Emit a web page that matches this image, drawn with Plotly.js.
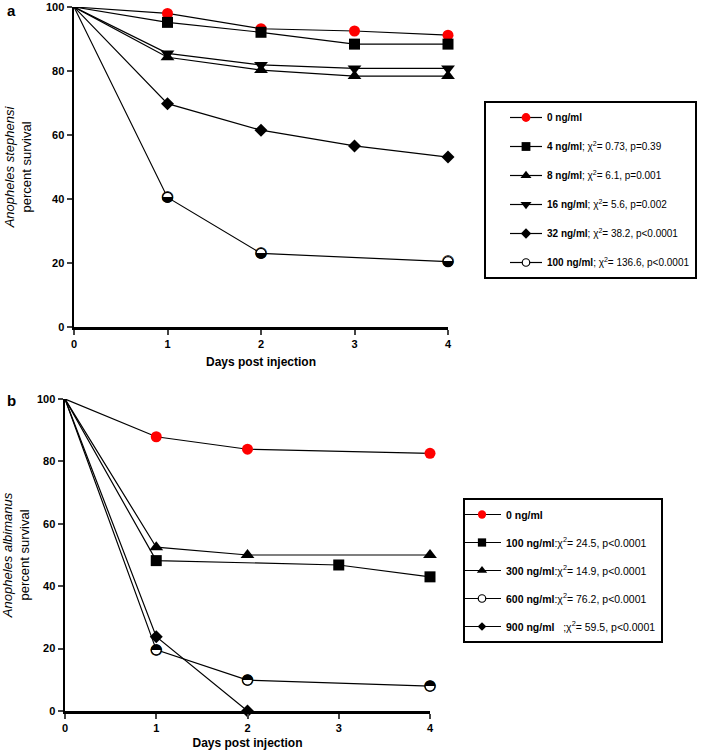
<!DOCTYPE html>
<html>
<head>
<meta charset="utf-8">
<script src="https://cdn.plot.ly/plotly-3.0.1.min.js"></script>
<style>
  body { margin: 0; background: #fff; }
  #chart { width: 710px; height: 752px; }
</style>
</head>
<body>
<div id="chart"></div>
<script>
/* ===== Data: panel a (Anopheles stephensi) ===== */
const daysA = [0, 1, 2, 3, 4];
const namesA = [
  "<b>0 ng/ml</b>",
  "<b>4 ng/ml</b>; χ<sup>2</sup>= 0.73, p=0.39",
  "<b>8 ng/ml</b>; χ<sup>2</sup>= 6.1, p=0.001",
  "<b>16 ng/ml</b>; χ<sup>2</sup>= 5.6, p=0.002",
  "<b>32 ng/ml</b>; χ<sup>2</sup>= 38.2, p<0.0001",
  "<b>100 ng/ml</b>; χ<sup>2</sup>= 136.6, p<0.0001"
];
const a0   = [100, 98.0, 93.2, 92.5, 91.2];
const a4   = [100, 95.2, 92.1, 88.4, 88.4];
const a8   = [100, 84.3, 80.3, 78.4, 78.4];
const a16  = [100, 85.5, 81.9, 80.8, 80.8];
const a32  = [100, 69.8, 61.5, 56.6, 53.1];
const a100x = [0, 1, 2, 4];
const a100 = [100, 40.5, 23.0, 20.4];

/* ===== Data: panel b (Anopheles albimanus) ===== */
const namesB = [
  "<b>0 ng/ml</b>",
  "<b>100 ng/ml</b>:χ<sup>2</sup>= 24.5, p<0.0001",
  "<b>300 ng/ml</b>:χ<sup>2</sup>= 14.9, p<0.0001",
  "<b>600 ng/ml</b>:χ<sup>2</sup>= 76.2, p<0.0001",
  "<b>900 ng/ml</b>&nbsp;&nbsp;&nbsp;;χ<sup>2</sup>= 59.5, p<0.0001"
];
const b0x   = [0, 1, 2, 4];
const b0    = [100, 87.9, 83.9, 82.6];
const b100x = [0, 1, 3, 4];
const b100  = [100, 48.2, 46.8, 43.0];
const b300x = [0, 1, 2, 4];
const b300  = [100, 52.5, 50.0, 50.0];
const b600x = [0, 1, 2, 4];
const b600  = [100, 19.6, 9.9, 8.0];
const b900x = [0, 1, 2];
const b900  = [100, 23.8, 0];

/* ===== Helpers ===== */
const FONT = "Liberation Sans, Arial, sans-serif";

function sizes(n, s) {
  // no marker on the day-0 starting point
  return Array.from({length: n}, (_, i) => i === 0 ? 0 : s);
}

function series(x, y, name, sym, col, sz, xa, ya, leg, grp) {
  return {
    type: "scatter", mode: "lines+markers",
    x: x, y: y, name: name,
    xaxis: xa, yaxis: ya, legend: leg, legendgroup: grp,
    cliponaxis: false,
    line: {color: "black", width: 1.2},
    marker: {
      symbol: sym, color: col, size: sizes(x.length, sz), opacity: 1,
      line: {color: "black", width: col === "white" ? 1.2 : 0}
    }
  };
}

// half-filled circles: glyph drawn on top of the white marker
function halfGlyph(x, y, glyph, xa, ya) {
  return {
    type: "scatter", mode: "text",
    x: x.slice(1), y: y.slice(1),
    text: x.slice(1).map(() => glyph),
    textposition: "middle center",
    textfont: {family: "DejaVu Sans", size: 15, color: "black"},
    xaxis: xa, yaxis: ya, showlegend: false, cliponaxis: false,
    hoverinfo: "skip"
  };
}

const traces = [
  series(daysA, a0,  namesA[0], "circle", "red", 11, "x", "y", "legend", "a0"),
  series(daysA, a4,  namesA[1], "square", "black", 11, "x", "y", "legend", "a1"),
  series(daysA, a8,  namesA[2], "triangle-up", "black", 12, "x", "y", "legend", "a2"),
  series(daysA, a16, namesA[3], "triangle-down", "black", 12, "x", "y", "legend", "a3"),
  series(daysA, a32, namesA[4], "diamond", "black", 10, "x", "y", "legend", "a4"),
  series(a100x, a100, namesA[5], "circle", "white", 10, "x", "y", "legend", "a5"),
  halfGlyph(a100x, a100, "◒", "x", "y"),

  series(b0x, b0,     namesB[0], "circle", "red", 11, "x2", "y2", "legend2", "b0"),
  series(b100x, b100, namesB[1], "square", "black", 11, "x2", "y2", "legend2", "b1"),
  series(b300x, b300, namesB[2], "triangle-up", "black", 12, "x2", "y2", "legend2", "b2"),
  series(b600x, b600, namesB[3], "circle", "white", 10, "x2", "y2", "legend2", "b3"),
  series(b900x, b900, namesB[4], "diamond", "black", 10, "x2", "y2", "legend2", "b4"),
  halfGlyph(b600x, b600, "◓", "x2", "y2")
];

function xAxis(domain, anchor, standoff) {
  return {
    domain: domain, anchor: anchor, range: [0, 4],
    tickvals: [0, 1, 2, 3, 4], ticks: "outside", ticklen: 5, tickwidth: 2,
    showline: true, linewidth: 2.5, linecolor: "black",
    showgrid: false, zeroline: false, fixedrange: true,
    tickfont: {family: FONT, size: 11, weight: "bold", color: "black"},
    title: {text: "<b>Days post injection</b>", standoff: standoff,
            font: {family: FONT, size: 12, color: "black"}}
  };
}

function yAxis(domain, anchor, label) {
  return {
    domain: domain, anchor: anchor, range: [0, 100],
    tickvals: [0, 20, 40, 60, 80, 100], ticks: "outside", ticklen: 5, tickwidth: 2,
    showline: true, linewidth: 2.5, linecolor: "black",
    showgrid: false, zeroline: false, fixedrange: true,
    tickfont: {family: FONT, size: 11, weight: "bold", color: "black"},
    title: {text: label, standoff: 12,
            font: {family: FONT, size: 13, color: "black"}}
  };
}

function legendBox(x, y, size, gap, indent, iw, ew) {
  return {
    x: x, y: y, xanchor: "left", yanchor: "top",
    bordercolor: "black", borderwidth: 2, bgcolor: "white",
    tracegroupgap: gap, itemwidth: iw, indentation: indent,
    entrywidth: ew, entrywidthmode: "pixels",
    font: {family: FONT, size: size, color: "black"}
  };
}

const layout = {
  width: 710, height: 752,
  margin: {l: 0, r: 0, t: 0, b: 0},
  paper_bgcolor: "white", plot_bgcolor: "white",
  xaxis:  xAxis([74 / 710, 448 / 710], "y", 9),
  yaxis:  yAxis([1 - 327 / 752, 1 - 7 / 752], "x",
                "<i>Anopheles stephensi</i><br>percent survival"),
  xaxis2: xAxis([65 / 710, 430 / 710], "y2", 6),
  yaxis2: yAxis([1 - 711 / 752, 1 - 399 / 752], "x2",
                "<i>Anopheles albimanus</i><br>percent survival"),
  legend:  legendBox(484 / 710, 1 - 101 / 752, 10, 10, 19, 32, 172),
  legend2: legendBox(463 / 710, 1 - 498 / 752, 10.5, 9, -7, 38, 238),
  annotations: [
    {text: "<b>a</b>", x: 12 / 710, y: 1 - 10 / 752, xref: "paper", yref: "paper",
     showarrow: false, xanchor: "center", yanchor: "middle",
     font: {family: FONT, size: 15, color: "black"}},
    {text: "<b>b</b>", x: 12 / 710, y: 1 - 400 / 752, xref: "paper", yref: "paper",
     showarrow: false, xanchor: "center", yanchor: "middle",
     font: {family: FONT, size: 15, color: "black"}}
  ]
};

Plotly.newPlot("chart", traces, layout, {displayModeBar: false, staticPlot: true});
</script>
</body>
</html>
